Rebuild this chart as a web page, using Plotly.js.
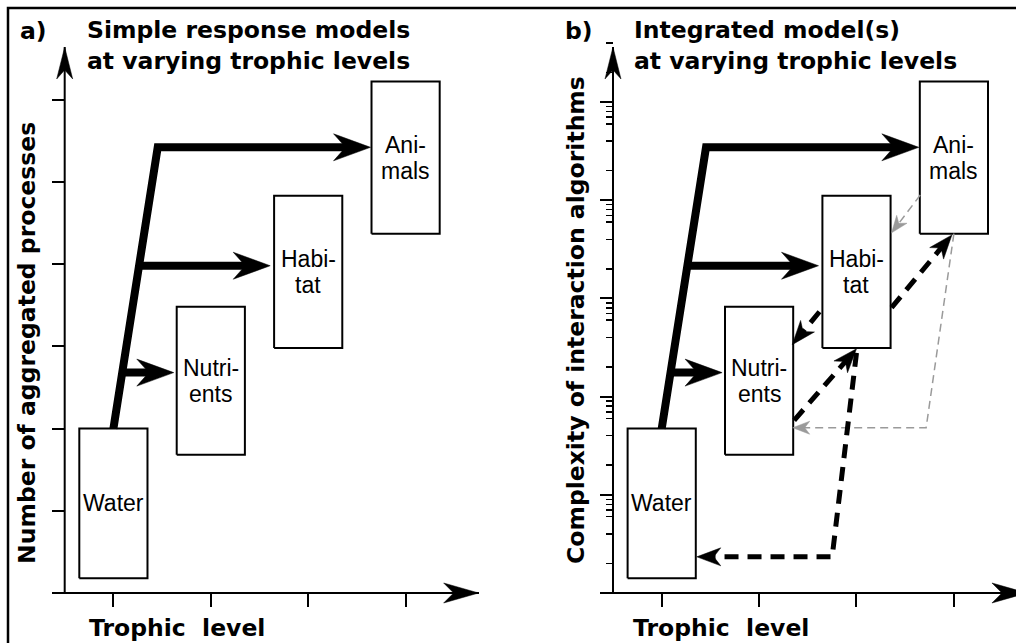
<!DOCTYPE html>
<html><head><meta charset="utf-8">
<script src="https://cdn.plot.ly/plotly-3.0.1.min.js"></script>
<style>html,body{margin:0;padding:0;background:#fff}</style>
</head><body>
<div id="chart" style="width:1016px;height:643px"></div>
<script>
// ---------------- data ----------------
const trophicLevels = [1, 2, 3, 4];                       // x ticks / box centres
const boxLabels = ['Water', 'Nutri-<br>ents', 'Habi-<br>tat', 'Ani-<br>mals'];
const boxBottom = [0.18, 1.68, 2.98, 4.37];
const boxTop    = [2.00, 3.48, 4.83, 6.22];
const countTicks = [1, 2, 3, 4, 5, 6];                    // panel a y ticks
const complexityDecades = [1, 10, 100, 1000, 10000, 100000]; // panel b major (log) ticks
const complexityMinorDigits = [2, 4, 6, 7, 8, 9];         // panel b minor ticks per decade

// solid arrows (both panels)
const trunkX = [1.00, 1.455, 3.64];
const trunkY = [2.00, 5.42, 5.42];
const branchY    = [3.98, 2.68];
const branchTipX = [2.61, 1.62];

// panel b, black dashed links
const habitatToNutrientsX = [2.62, 2.34],  habitatToNutrientsY = [3.42, 3.02];
const nutrientsToHabitatX = [2.36, 3.00],  nutrientsToHabitatY = [2.10, 2.97];
const habitatToAnimalsX   = [3.36, 3.98],  habitatToAnimalsY   = [3.47, 4.355];
const habitatToWaterX = [3.00, 2.75, 1.36], habitatToWaterY = [2.92, 0.44, 0.44];
// panel b, grey dashed links
const animalsToHabitatX = [3.655, 3.36], animalsToHabitatY = [4.84, 4.38];
const animalsToNutrientsX = [4.00, 3.715, 2.345], animalsToNutrientsY = [4.37, 2.01, 2.01];

const panelTitles = ['Simple response models<br>at varying trophic levels',
                     'Integrated model(s)<br>at varying trophic levels'];
const panelLetters = ['a)', 'b)'];
const yTitles = ['Number of aggregated processes', 'Complexity of interaction algorithms'];
const xTitle = 'Trophic\u00a0 level';

// ---------------- geometry ----------------
const W = 1016, H = 643;
const SX = 97.4, SY = 82.23;          // px per unit
const X0 = [16, 564.3];               // px of x=0 in each panel
const Y0 = 593;                       // px of y=0
const DECADE_PX = 98.2;
const xStart = 0.37, xEnd = 4.75, yAxisAt = 0.5, yEnd = 6.64;
const yLo = -0.27, yHi = 6.7;
const boxHalf = 0.35;

const fx = (p, v) => (X0[p] + v * SX) / W;
const fy = v => 1 - (Y0 - v * SY) / H;
const px = v => v / W, py = v => 1 - v / H;

const SOLID = {width: 8, color: '#000', L: 37, W: 13.5, N: 12};
const BDASH = {width: 5, color: '#000', dash: '14px,9px', L: 24, W: 9, N: 7};
const GDASH = {width: 1.5, color: '#9a9a9a', dash: '8px,5px', L: 17, W: 6.5, N: 5};
const AXX = {L: 35, W: 10, N: 10}, AXY = {L: 32, W: 8, N: 9};

function head(xs, ys, st, color, ax, ay) {
  const n = xs.length, xt = xs[n-1], yt = ys[n-1];
  const dx = (xt - xs[n-2]) * SX, dy = (yt - ys[n-2]) * SY, len = Math.hypot(dx, dy);
  const ux = dx/len, uy = dy/len, nx = -uy, ny = ux;
  const pts = [[0,0], [-st.L*ux + st.W*nx, -st.L*uy + st.W*ny], [-(st.L-st.N)*ux, -(st.L-st.N)*uy],
               [-st.L*ux - st.W*nx, -st.L*uy - st.W*ny], [0,0]];
  return {type:'scatter', mode:'lines', x: pts.map(q => xt + q[0]/SX), y: pts.map(q => yt + q[1]/SY),
          fill:'toself', fillcolor: color, line:{color: color, width: 0.5},
          xaxis: ax, yaxis: ay, hoverinfo:'skip', showlegend:false};
}
function shaft(xs, ys, st, ax, ay) {
  const n = xs.length, xt = xs[n-1], yt = ys[n-1];
  const dx = (xt - xs[n-2]) * SX, dy = (yt - ys[n-2]) * SY, len = Math.hypot(dx, dy);
  const trim = st.L - st.N - 1;
  const x2 = xs.slice(), y2 = ys.slice();
  x2[n-1] = xt - dx/len*trim/SX; y2[n-1] = yt - dy/len*trim/SY;
  return {type:'scatter', mode:'lines', x: x2, y: y2,
          line:{color: st.color, width: st.width, dash: st.dash || 'solid'},
          xaxis: ax, yaxis: ay, hoverinfo:'skip', showlegend:false};
}
const arrow = (xs, ys, st, ax, ay) => [shaft(xs, ys, st, ax, ay), head(xs, ys, st, st.color, ax, ay)];

const traces = [];
const annotations = [];
const BOLD = {family: 'DejaVu Sans', size: 23.5, color: '#000', weight: 'bold'};
const REG = {family: 'Liberation Sans, Arial, sans-serif', size: 23, color: '#000'};

[0, 1].forEach(p => {
  const ax = p ? 'x2' : 'x', ay = p ? 'y2' : 'y';
  // y axis line + arrow heads on both axes
  traces.push({type:'scatter', mode:'lines', x:[yAxisAt, yAxisAt], y:[0, yEnd], line:{color:'#000', width:2},
               xaxis: ax, yaxis: ay, hoverinfo:'skip', showlegend:false});
  traces.push(head([yAxisAt, yAxisAt], [0, yEnd], AXY, '#000', ax, ay));
  traces.push(head([xStart, xEnd], [0, 0], AXX, '#000', ax, ay));
  // boxes
  const bx = [], by = [];
  trophicLevels.forEach((c, i) => {
    bx.push(c-boxHalf, c+boxHalf, c+boxHalf, c-boxHalf, c-boxHalf, null);
    by.push(boxBottom[i], boxBottom[i], boxTop[i], boxTop[i], boxBottom[i], null);
  });
  traces.push({type:'scatter', mode:'lines', x: bx, y: by, fill:'toself', fillcolor:'#fff',
               line:{color:'#000', width:2}, xaxis: ax, yaxis: ay, hoverinfo:'skip', showlegend:false});
  // solid arrows
  traces.push(...arrow(trunkX, trunkY, SOLID, ax, ay));
  branchY.forEach((yb, i) => {
    const xb = trunkX[0] + (yb - trunkY[0]) / (trunkY[1] - trunkY[0]) * (trunkX[1] - trunkX[0]);
    traces.push(...arrow([xb, branchTipX[i]], [yb, yb], SOLID, ax, ay));
  });
  // box labels
  trophicLevels.forEach((c, i) => {
    const lines = boxLabels[i].split('<br>');
    lines.forEach((t, k) => annotations.push({xref: ax, yref: ay, x: c, y: (boxBottom[i] + boxTop[i]) / 2,
      yshift: ((lines.length - 1) / 2 - k) * 26, text: t, showarrow: false, font: REG,
      xanchor: 'center', yanchor: 'middle'}));
  });
});

// panel b links
traces.push(...arrow(animalsToHabitatX, animalsToHabitatY, GDASH, 'x2', 'y2'));
traces.push(...arrow(animalsToNutrientsX, animalsToNutrientsY, GDASH, 'x2', 'y2'));
traces.push(...arrow(habitatToNutrientsX, habitatToNutrientsY, BDASH, 'x2', 'y2'));
traces.push(...arrow(nutrientsToHabitatX, nutrientsToHabitatY, BDASH, 'x2', 'y2'));
traces.push(...arrow(habitatToAnimalsX, habitatToAnimalsY, BDASH, 'x2', 'y2'));
traces.push(...arrow(habitatToWaterX, habitatToWaterY, BDASH, 'x2', 'y2'));
// registers the log tick axis
traces.push({type:'scatter', mode:'lines', x:[], y:[], xaxis:'x2', yaxis:'y3', hoverinfo:'skip', showlegend:false});

// titles
const letterX = [18, 563], titleX = [85, 632], yTitleX = [27, 576], yTitleY = [343, 320], xTitleX = [176.5, 721];
[0, 1].forEach(p => {
  annotations.push({xref:'paper', yref:'paper', x: px(letterX[p]), y: py(31), text: panelLetters[p],
    showarrow:false, font: BOLD, xanchor:'left', yanchor:'middle'});
  annotations.push({xref:'paper', yref:'paper', x: px(titleX[p]), y: py(46), text: panelTitles[p], align:'left',
    showarrow:false, font: BOLD, xanchor:'left', yanchor:'middle'});
  annotations.push({xref:'paper', yref:'paper', x: px(yTitleX[p]), y: py(yTitleY[p]), text: yTitles[p],
    textangle: -90, showarrow:false, font: BOLD, xanchor:'center', yanchor:'middle'});
  annotations.push({xref:'paper', yref:'paper', x: px(xTitleX[p]), y: py(628), text: xTitle,
    showarrow:false, font: BOLD, xanchor:'center', yanchor:'middle'});
});

const minorVals = [];
complexityDecades.forEach(d => complexityMinorDigits.forEach(m => minorVals.push(d * m)));

const common = {showgrid:false, zeroline:false, showticklabels:false, fixedrange:true,
                ticks:'outside', ticklen:13, tickwidth:2, tickcolor:'#000'};
const layout = {
  width: W, height: H, margin:{l:0, r:0, t:0, b:0},
  paper_bgcolor:'#fff', plot_bgcolor:'rgba(0,0,0,0)', showlegend:false,
  xaxis: Object.assign({}, common, {domain:[fx(0, xStart), fx(0, xEnd)], range:[xStart, xEnd],
    anchor:'free', position: fy(0), tickvals: trophicLevels, showline:true, linewidth:2, linecolor:'#000'}),
  yaxis: Object.assign({}, common, {domain:[fy(yLo), fy(yHi)], range:[yLo, yHi],
    anchor:'free', position: fx(0, yAxisAt), tickvals: countTicks, showline:false}),
  xaxis2: Object.assign({}, common, {domain:[fx(1, xStart), 1], range:[xStart, (W - X0[1]) / SX],
    anchor:'free', position: fy(0), tickvals: trophicLevels, showline:true, linewidth:2, linecolor:'#000'}),
  yaxis2: {domain:[fy(yLo), fy(yHi)], range:[yLo, yHi], anchor:'x2', visible:false, fixedrange:true},
  yaxis3: Object.assign({}, common, {type:'log', overlaying:'y2', anchor:'free', position: fx(1, yAxisAt),
    range:[yLo * SY / DECADE_PX, yHi * SY / DECADE_PX], tickvals: complexityDecades, showline:false,
    minor:{tickmode:'array', tickvals: minorVals, ticks:'outside', ticklen:7, tickwidth:1.5, tickcolor:'#000'}}),
  annotations: annotations,
  shapes: [{type:'rect', xref:'paper', yref:'paper', x0: px(8), x1: 1.1, y0: -0.1, y1: py(8),
            line:{color:'#000', width:2.5}, fillcolor:'rgba(0,0,0,0)'}]
};
Plotly.newPlot('chart', traces, layout, {staticPlot:true, displayModeBar:false});
</script>
</body></html>
